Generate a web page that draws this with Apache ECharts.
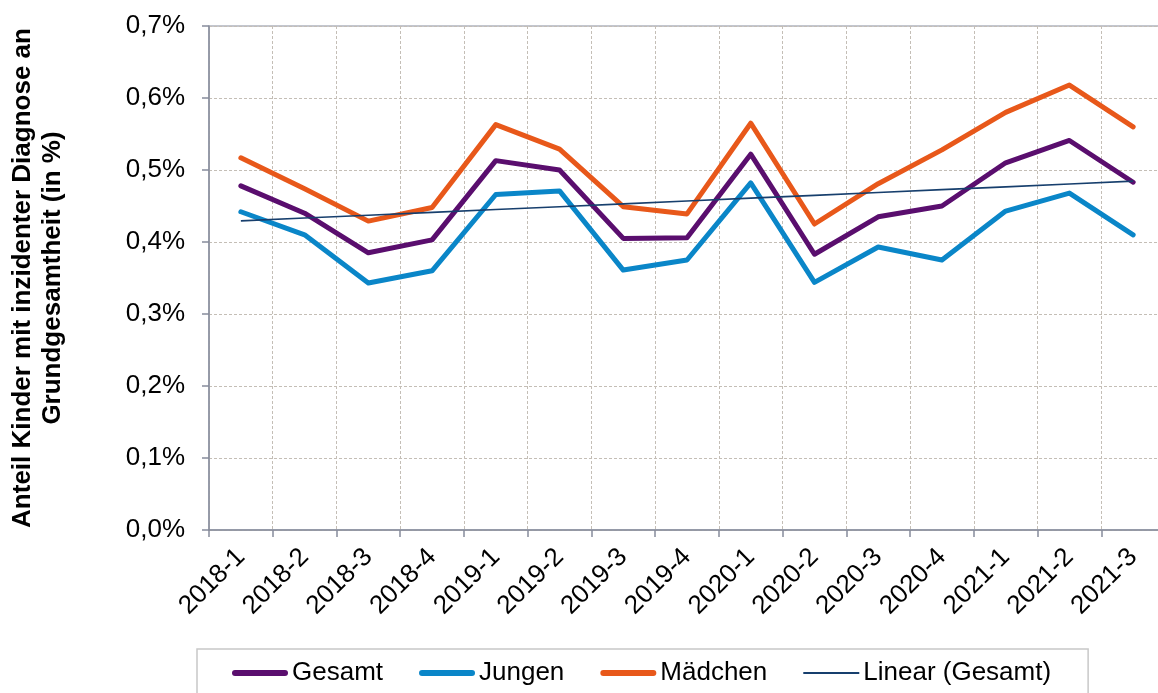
<!DOCTYPE html>
<html>
<head>
<meta charset="utf-8">
<script src="https://cdn.jsdelivr.net/npm/echarts@6/dist/echarts.min.js"></script>
<style>
html,body{margin:0;padding:0;background:#fff;}
#chart{width:1158px;height:693px;}
</style>
</head>
<body>
<div id="chart"></div>
<script>
const categories = ['2018-1','2018-2','2018-3','2018-4','2019-1','2019-2','2019-3','2019-4','2020-1','2020-2','2020-3','2020-4','2021-1','2021-2','2021-3'];
const gesamt  = [0.478,0.440,0.385,0.403,0.513,0.500,0.405,0.406,0.522,0.383,0.435,0.450,0.510,0.541,0.483];
const jungen  = [0.442,0.410,0.343,0.360,0.466,0.471,0.361,0.375,0.482,0.344,0.393,0.375,0.443,0.468,0.410];
const maedchen= [0.517,0.474,0.429,0.448,0.563,0.529,0.449,0.439,0.565,0.425,0.481,0.528,0.580,0.618,0.560];
const yTicks = [0,0.1,0.2,0.3,0.4,0.5,0.6,0.7];

// linear trend (least squares) of Gesamt
function linearFit(ys){
  const n = ys.length;
  let sx=0, sy=0, sxx=0, sxy=0;
  ys.forEach((y,i)=>{sx+=i;sy+=y;sxx+=i*i;sxy+=i*y;});
  const b = (n*sxy - sx*sy)/(n*sxx - sx*sx);
  const a = (sy - b*sx)/n;
  return ys.map((_,i)=>a+b*i);
}
const trend = linearFit(gesamt);

const FONT = "'Liberation Sans', Arial, sans-serif";
const axisGrey = '#878c9c';
const gridGrey = '#c4beb6';
const C_GES = '#5a0e6e', C_JUN = '#0a86c8', C_MAE = '#e8581a', C_LIN = '#173f6d';

const chart = echarts.init(document.getElementById('chart'));
chart.setOption({
  animation:false,
  backgroundColor:'#fff',
  grid:{left:209, top:26, right:-7, bottom:163, outerBoundsMode:'none', containLabel:false,
    show:true, borderColor:axisGrey, borderWidth:1, backgroundColor:'transparent'},
  legend:{
    left:197, top:649,
    padding:[11,37,40,35],
    borderColor:'#c8c8c8', borderWidth:1.5,
    itemWidth:56, itemHeight:6, itemGap:36,
    symbolKeepAspect:true,
    textStyle:{fontFamily:FONT, fontSize:26, color:'#000', padding:[0,0,0,-1]},
    data:[
      {name:'Gesamt', icon:'path://M3,0h50a3,3 0 0 1 0,6h-50a3,3 0 0 1 0,-6z', itemStyle:{color:C_GES}},
      {name:'Jungen', icon:'path://M3,0h50a3,3 0 0 1 0,6h-50a3,3 0 0 1 0,-6z', itemStyle:{color:C_JUN}},
      {name:'Mädchen', icon:'path://M3,0h50a3,3 0 0 1 0,6h-50a3,3 0 0 1 0,-6z', itemStyle:{color:C_MAE}},
      {name:'Linear (Gesamt)', icon:'path://M0,0h56v1.8h-56z', itemStyle:{color:C_LIN}}
    ]
  },
  xAxis:{
    type:'category', data:categories, boundaryGap:true,
    axisLine:{lineStyle:{color:axisGrey, width:1.5}},
    axisTick:{show:true, length:7, lineStyle:{color:axisGrey, width:1.5}},
    axisLabel:{rotate:45, fontFamily:FONT, fontSize:26, color:'#000', margin:23, interval:0},
    splitLine:{show:true, lineStyle:{color:gridGrey, type:[3,2], width:1}}
  },
  yAxis:{
    type:'value', min:0, max:0.7, interval:0.1,
    name:'Anteil Kinder mit inzidenter Diagnose an\nGrundgesamtheit (in %)',
    nameLocation:'middle', nameGap:141, nameRotate:90,
    nameTextStyle:{fontFamily:FONT, fontSize:26, fontWeight:'bold', color:'#000', lineHeight:30, align:'center'},
    axisLine:{show:true, lineStyle:{color:axisGrey, width:1.5}},
    axisTick:{show:true, length:7, lineStyle:{color:axisGrey, width:1.5}},
    axisLabel:{fontFamily:FONT, fontSize:26, color:'#000', margin:24,
      formatter:v=>v.toFixed(1).replace('.',',')+'%'},
    splitLine:{show:true, lineStyle:{color:gridGrey, type:[3,2], width:1}}
  },
  series:[
    {name:'Gesamt', type:'line', data:gesamt, symbol:'none', color:C_GES,
      lineStyle:{width:5, color:C_GES, cap:'round', join:'round'}, z:4},
    {name:'Jungen', type:'line', data:jungen, symbol:'none', color:C_JUN,
      lineStyle:{width:5, color:C_JUN, cap:'round', join:'round'}, z:3},
    {name:'Mädchen', type:'line', data:maedchen, symbol:'none', color:C_MAE,
      lineStyle:{width:5, color:C_MAE, cap:'round', join:'round'}, z:2},
    {name:'Linear (Gesamt)', type:'line', data:trend, symbol:'none', color:C_LIN,
      lineStyle:{width:1.6, color:C_LIN}, z:5}
  ]
});
</script>
</body>
</html>
